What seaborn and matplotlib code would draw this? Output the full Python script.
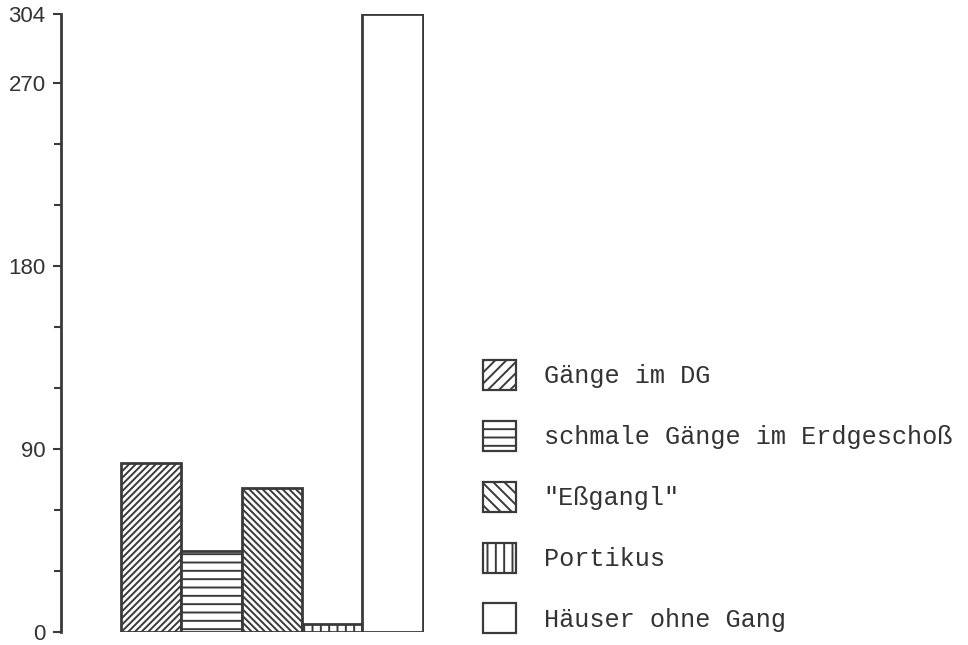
import matplotlib
matplotlib.use("Agg")
import matplotlib.pyplot as plt
from matplotlib.patches import Patch
import seaborn as sns
import pandas as pd

categories = ["Gänge im DG", "schmale Gänge im Erdgeschoß", "\"Eßgangl\"", "Portikus", "Häuser ohne Gang"]
values = [83, 40, 71, 4, 304]
major_ticks = [0, 90, 180, 270, 304]
minor_ticks = [30, 60, 120, 150, 210, 240]

hatches = ["/////", "--", "\\\\\\\\\\", "||", ""]
ink = "#3a3a3a"

sns.set_theme(style="white")
plt.rcParams["hatch.linewidth"] = 1.4
plt.rcParams["hatch.color"] = ink

fig = plt.figure(figsize=(9.68, 6.45), dpi=100)
ax = fig.add_axes([61 / 968, 13 / 645, (424 - 61) / 968, (632 - 14) / 645])

df = pd.DataFrame({"cat": categories, "val": values})
sns.barplot(data=df, x="cat", y="val", color="white", edgecolor=ink,
            linewidth=2, width=1.0, saturation=1, ax=ax)
for p, h in zip(ax.patches, hatches):
    p.set_hatch(h)
    p.set_facecolor("white")
    p.set_edgecolor(ink)

ax.set_xlim(-1.49, 4.52)
ax.set_ylim(0, 304)
for s in ["top", "right", "bottom"]:
    ax.spines[s].set_visible(False)
ax.spines["left"].set_color(ink)
ax.spines["left"].set_linewidth(2)
ax.set_xticks([])
ax.set_xlabel("")
ax.set_ylabel("")
ax.set_yticks(major_ticks)
ax.set_yticklabels([str(t) for t in major_ticks], fontfamily="Liberation Sans",
                   fontsize=16, color="#333333")
ax.set_yticks(minor_ticks, minor=True)
ax.tick_params(axis="y", which="major", left=True, length=6, width=1.5, color=ink, pad=5)
ax.tick_params(axis="y", which="minor", left=True, length=5, width=1.5, color=ink)
ax.patch.set_alpha(0)

handles = [Patch(facecolor="white", edgecolor=ink, hatch=h, linewidth=1.6)
           for h in ["///", "--", "\\\\\\", "||", ""]]
leg = fig.legend(handles, categories, loc="upper left", bbox_to_anchor=(483 / 968, 1 - 360 / 645),
                 frameon=False, borderpad=0, borderaxespad=0,
                 handlelength=1.3, handleheight=1.45, handletextpad=1.1, labelspacing=1.22,
                 prop={"family": "Liberation Mono", "size": 18.2})
for t in leg.get_texts():
    t.set_color("#333333")

fig.savefig("out.png", dpi=100, facecolor="white")
